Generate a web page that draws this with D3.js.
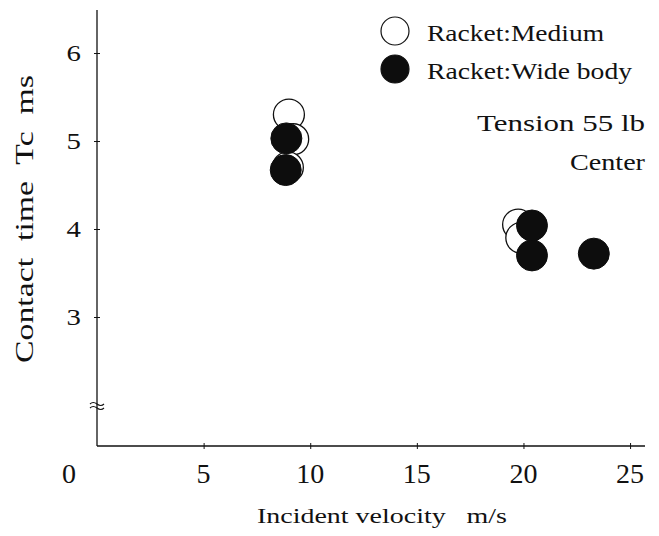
<!DOCTYPE html>
<html>
<head>
<meta charset="utf-8">
<script src="https://cdn.jsdelivr.net/npm/d3@7"></script>
<style>
  body { margin: 0; background: #fff; }
  text { font-family: "Liberation Serif", "Times New Roman", serif; fill: #111; white-space: pre; }
</style>
</head>
<body>
<svg id="chart" width="659" height="536"></svg>
<script>
// incident velocity (m/s) and contact time (ms)
const mediumX = [9.0, 9.2, 8.95, 19.75, 19.9]
const mediumY = [5.3, 5.02, 4.7, 4.05, 3.9]
const wideX = [8.88, 8.85, 20.4, 20.4, 23.3]
const wideY = [5.03, 4.67, 4.04, 3.7, 3.72]

const xTicks = [0, 5, 10, 15, 20, 25]
const yTicks = [3, 4, 5, 6]
const legendLabels = ["Racket:Medium", "Racket:Wide body"]
const notes = ["Tension 55 lb", "Center"]

const svg = d3.select("#chart")

const x = d3.scaleLinear().domain([0, 25.7]).range([97, 645])
const y = d3.scaleLinear().domain([1.534, 6.489]).range([446, 10])

// stretch text to a given width (the scan's type is wide)
function fit(sel, w) {
  sel.attr("textLength", w).attr("lengthAdjust", "spacingAndGlyphs")
}
function widen(sel, k) {
  sel.each(function () {
    const len = this.getComputedTextLength()
    d3.select(this).attr("textLength", len * k).attr("lengthAdjust", "spacingAndGlyphs")
  })
}

// y axis
const yAxis = svg.append("g")
  .attr("transform", "translate(" + x(0) + ",0)")
  .call(d3.axisLeft(y).tickValues(yTicks).tickSize(3).tickFormat(""))
yAxis.select(".domain").attr("d", "M0," + y.range()[0] + "V" + y.range()[1])
  .attr("stroke", "#111").attr("stroke-width", 1.3)
yAxis.selectAll(".tick line").attr("x1", -3).attr("x2", 3).attr("stroke", "#111")

svg.selectAll(".ylab")
  .data(yTicks)
  .enter().append("text")
    .attr("class", "ylab")
    .attr("x", x(0) - 16)
    .attr("y", d => y(d) + 8)
    .attr("text-anchor", "end")
    .style("font-size", "24px")
    .text(d => d)
    .call(widen, 1.2)

// axis break on y
const by = y(2.0)
svg.append("path")
  .attr("d", "M" + (x(0) - 7) + "," + (by - 1) + " q3,-3 7,0 t7,0 M" + (x(0) - 7) + "," + (by + 3) + " q3,-3 7,0 t7,0")
  .attr("fill", "none").attr("stroke", "#111").attr("stroke-width", 1.1)

// x axis
const xAxis = svg.append("g")
  .attr("transform", "translate(0," + y(y.domain()[0]) + ")")
  .call(d3.axisBottom(x).tickValues(xTicks.filter(d => d > 0)).tickSize(3).tickFormat(""))
xAxis.select(".domain").attr("d", "M" + x.range()[0] + ",0H" + x.range()[1])
  .attr("stroke", "#111").attr("stroke-width", 1.3)
xAxis.selectAll(".tick line").attr("y1", -3).attr("y2", 3).attr("stroke", "#111")

svg.selectAll(".xlab")
  .data(xTicks)
  .enter().append("text")
    .attr("class", "xlab")
    .attr("x", d => d === 0 ? x(0) - 28 : x(d))
    .attr("y", 483)
    .attr("text-anchor", "middle")
    .style("font-size", "28px")
    .text(d => d)

// axis titles
svg.append("text")
  .attr("x", 257).attr("y", 523)
  .style("font-size", "22px")
  .text("Incident velocity   m/s")
  .call(fit, 250)

svg.append("text")
  .attr("transform", "translate(33,219) rotate(-90)")
  .attr("text-anchor", "middle")
  .style("font-size", "25px")
  .text("Contact  time  Tc  ms")
  .call(fit, 288)

// points: open first, filled on top
const r = 15.5
svg.selectAll(".medium")
  .data(d3.zip(mediumX, mediumY))
  .enter().append("circle")
    .attr("class", "medium")
    .attr("cx", d => x(d[0]))
    .attr("cy", d => y(d[1]))
    .attr("r", r)
    .attr("fill", "#fff")
    .attr("stroke", "#111")
    .attr("stroke-width", 1.3)

svg.selectAll(".wide")
  .data(d3.zip(wideX, wideY))
  .enter().append("circle")
    .attr("class", "wide")
    .attr("cx", d => x(d[0]))
    .attr("cy", d => y(d[1]))
    .attr("r", r)
    .attr("fill", "#0d0d0d")
    .attr("stroke", "#0d0d0d")

// legend
const legend = svg.append("g")
legend.selectAll("circle")
  .data(legendLabels)
  .enter().append("circle")
    .attr("cx", 395)
    .attr("cy", (d, i) => 31 + i * 38)
    .attr("r", 14)
    .attr("fill", (d, i) => i ? "#0d0d0d" : "#fff")
    .attr("stroke", "#111")
    .attr("stroke-width", 1.2)
legend.selectAll("text")
  .data(legendLabels)
  .enter().append("text")
    .attr("x", 427)
    .attr("y", (d, i) => 41 + i * 38)
    .style("font-size", "23px")
    .text(d => d)
    .each(function (d, i) { d3.select(this).call(fit, i ? 205 : 177) })

svg.selectAll(".note")
  .data(notes)
  .enter().append("text")
    .attr("class", "note")
    .attr("x", 645)
    .attr("y", (d, i) => 131 + i * 39)
    .attr("text-anchor", "end")
    .style("font-size", "23px")
    .text(d => d)
    .each(function (d, i) { d3.select(this).call(fit, i ? 75 : 168) })
</script>
</body>
</html>
